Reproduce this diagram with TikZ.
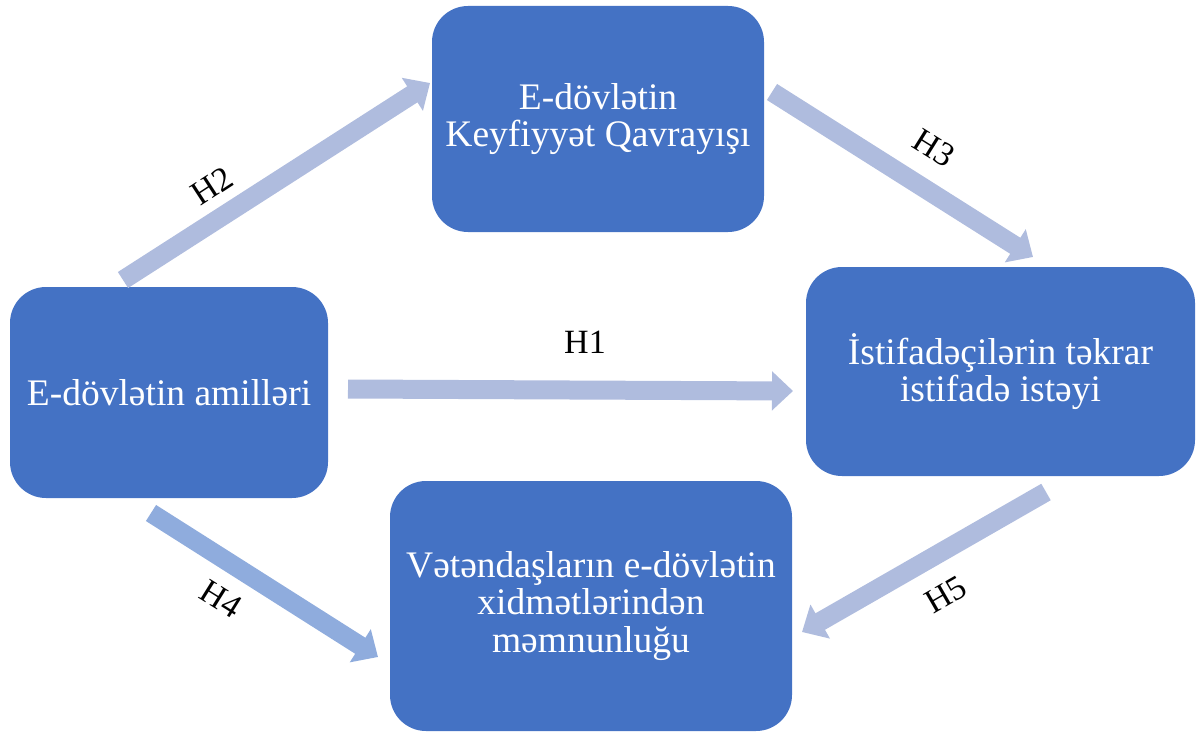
\documentclass[tikz,border=0pt]{standalone}
\usepackage{fontspec}
\setmainfont{Liberation Serif}
\usetikzlibrary{arrows.meta}
\definecolor{boxblue}{HTML}{4472C4}
\definecolor{arrowlight}{HTML}{AFBCDE}
\definecolor{arrowmid}{HTML}{8FACDD}
\tikzset{
  box/.style={fill=boxblue, draw=none, rounded corners=36pt, text=white, align=center,
    font=\fontsize{37.5}{37.5}\selectfont, inner sep=0pt},
  bigarrow/.style={draw=#1, line width=19pt,
    -{Triangle[width=38pt,length=21pt,fill=#1]}},
  hlabel/.style={font=\fontsize{34}{34}\selectfont, inner sep=0pt}
}
\begin{document}
\begin{tikzpicture}[x=1pt,y=-1pt]
\useasboundingbox (0,0) rectangle (1196,733);
\node[box, minimum width=318pt, minimum height=211pt] (A) at (169,392.5) {E-dövlətin amilləri};
\node[box, minimum width=332pt, minimum height=226pt] (B) at (598,119) {E-dövlətin\\Keyfiyyət Qavrayışı};
\node[box, minimum width=389pt, minimum height=209pt] (C) at (1000.5,371.5) {İstifadəçilərin təkrar\\istifadə istəyi};
\node[box, minimum width=402pt, minimum height=250pt] (D) at (591,606) {Vətəndaşların e-dövlətin\\xidmətlərindən\\məmnunluğu};
% connector ends
\coordinate (t1) at (348,389);  \coordinate (e1) at (793,391);
\coordinate (t2) at (123,280);  \coordinate (e2) at (430,83);
\coordinate (t3) at (772,92);   \coordinate (e3) at (1033,257);
\coordinate (t4) at (151,513);  \coordinate (e4) at (378,657);
\coordinate (t5) at (1046,492); \coordinate (e5) at (802,632);
\draw[bigarrow=arrowlight] (t1) -- (e1);
\draw[bigarrow=arrowlight] (t2) -- (e2);
\draw[bigarrow=arrowlight] (t3) -- (e3);
\draw[bigarrow=arrowmid] (t4) -- (e4);
\draw[bigarrow=arrowlight] (t5) -- (e5);
\node[hlabel] (l1) at (585,342) {H1};
\node[hlabel, rotate=33] (l2) at (212,186) {H2};
\node[hlabel, rotate=-32] (l3) at (934,148) {H3};
\node[hlabel, rotate=-32] (l4) at (221,599) {H4};
\node[hlabel, rotate=30] (l5) at (946,595) {H5};
\end{tikzpicture}
\end{document}
